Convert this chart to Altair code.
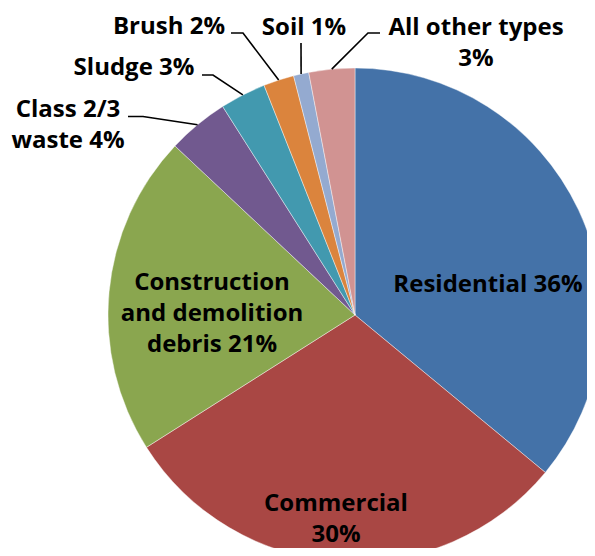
import math
import altair as alt
import pandas as pd

# ---------------- data ----------------
categories = ["Residential", "Commercial", "Construction and demolition debris",
              "Class 2/3 waste", "Sludge", "Brush", "Soil", "All other types"]
values = [36, 30, 21, 4, 3, 2, 1, 3]
label_texts = ["Residential 36%", "Commercial\n30%", "Construction\nand demolition\ndebris 21%",
               "Class 2/3\nwaste 4%", "Sludge 3%", "Brush 2%", "Soil 1%", "All other types\n3%"]
colors = ["#4472A8", "#A94744", "#8AA64F", "#71598F", "#4299AF", "#DB843D", "#94AAD0", "#D19392"]

# ---------------- layout (pixels in page space) ----------------
MARGIN = 8
W, H = 579, 540
CX, CY, R = 355, 315, 247
FONT = "Open Sans"
FONT_SIZE = 24
LINE_H = 31

# label anchor: (center x, first-line baseline y)
label_pos = {
    "Residential": (488, 292),
    "Commercial": (336, 511),
    "Construction and demolition debris": (212, 290),
    "Class 2/3 waste": (68, 117),
    "Sludge": (134, 75),
    "Brush": (169, 34),
    "Soil": (304, 35),
    "All other types": (476, 35),
}
# leader lines: label end point and elbow; the last point comes from the slice angle
leader_pts = {
    "Class 2/3 waste": [(128, 116.5), (143, 116.5)],
    "Sludge": [(202, 75), (213, 75)],
    "Brush": [(231, 33), (243, 33)],
    "Soil": [(301, 43), (301, 43)],
    "All other types": [(380, 33), (368, 33)],
}

# ---------------- tables ----------------
pie_df = pd.DataFrame({"category": categories, "value": values,
                       "idx": list(range(len(categories)))})

total = sum(values)
cum = 0.0
mid_angle = {}
for c, v in zip(categories, values):
    mid_angle[c] = (cum + v / 2) / total * 2 * math.pi
    cum += v

line_rows = []
for c, pts in leader_pts.items():
    a = mid_angle[c]
    edge = (CX + R * math.sin(a), CY - R * math.cos(a))
    for i, (px, py) in enumerate(pts + [edge]):
        line_rows.append({"category": c, "i": i, "x": px, "y": py})
line_df = pd.DataFrame(line_rows)

text_df = pd.DataFrame({
    "category": categories,
    "label": label_texts,
    "x": [label_pos[c][0] for c in categories],
    "y": [label_pos[c][1] for c in categories],
})

xs = alt.Scale(domain=[MARGIN, MARGIN + W], nice=False, zero=False)
ys = alt.Scale(domain=[MARGIN, MARGIN + H], nice=False, zero=False, reverse=True)

arcs = alt.Chart(pie_df).mark_arc(radius=R, stroke="#ffffff", strokeWidth=0.6, strokeOpacity=0.7).encode(
    theta=alt.Theta("value:Q", stack=True),
    order=alt.Order("idx:Q"),
    color=alt.Color("category:N", scale=alt.Scale(domain=categories, range=colors), legend=None),
    x=alt.value(CX - MARGIN),
    y=alt.value(CY - MARGIN),
)

lines = alt.Chart(line_df).mark_line(color="black", strokeWidth=1.6).encode(
    x=alt.X("x:Q", scale=xs, axis=None),
    y=alt.Y("y:Q", scale=ys, axis=None),
    detail="category:N",
    order="i:Q",
)

texts = alt.Chart(text_df).mark_text(
    font=FONT, fontSize=FONT_SIZE, fontWeight="bold", color="black",
    align="center", baseline="alphabetic", lineBreak="\n", lineHeight=LINE_H,
).encode(
    x=alt.X("x:Q", scale=xs, axis=None),
    y=alt.Y("y:Q", scale=ys, axis=None),
    text="label:N",
)

chart = alt.layer(arcs, lines, texts).properties(
    width=W, height=H, padding=0,
    autosize=alt.AutoSizeParams(type="none"),
).configure_view(stroke=None)

chart.save("out.html", embed_options={"renderer": "svg", "actions": False})
